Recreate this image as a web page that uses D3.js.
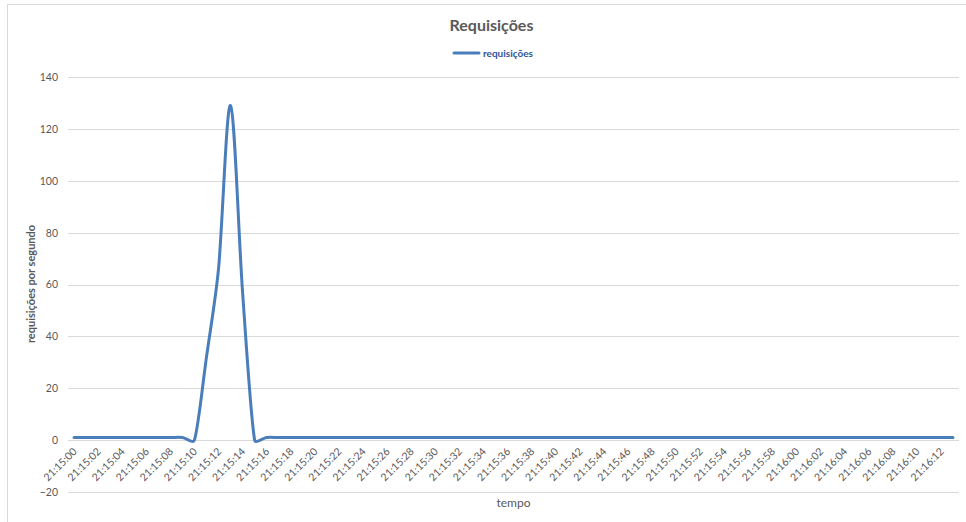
<!DOCTYPE html>
<html>
<head>
<meta charset="utf-8">
<script src="https://cdn.jsdelivr.net/npm/d3@7"></script>
<style>
  html, body { margin: 0; padding: 0; background: #fff; }
  svg { display: block; font-family: Lato, "Open Sans", sans-serif; }
</style>
</head>
<body>
<svg id="chart" width="966" height="522"></svg>
<script>
// Per-second timestamps of the run
const times = [
  "21:15:00","21:15:01","21:15:02","21:15:03","21:15:04","21:15:05","21:15:06","21:15:07",
  "21:15:08","21:15:09","21:15:10","21:15:11","21:15:12","21:15:13","21:15:14","21:15:15",
  "21:15:16","21:15:17","21:15:18","21:15:19","21:15:20","21:15:21","21:15:22","21:15:23",
  "21:15:24","21:15:25","21:15:26","21:15:27","21:15:28","21:15:29","21:15:30","21:15:31",
  "21:15:32","21:15:33","21:15:34","21:15:35","21:15:36","21:15:37","21:15:38","21:15:39",
  "21:15:40","21:15:41","21:15:42","21:15:43","21:15:44","21:15:45","21:15:46","21:15:47",
  "21:15:48","21:15:49","21:15:50","21:15:51","21:15:52","21:15:53","21:15:54","21:15:55",
  "21:15:56","21:15:57","21:15:58","21:15:59","21:16:00","21:16:01","21:16:02","21:16:03",
  "21:16:04","21:16:05","21:16:06","21:16:07","21:16:08","21:16:09","21:16:10","21:16:11",
  "21:16:12","21:16:13"
];

// Requests per second for each timestamp
const requisicoes = [
  1, 1, 1, 1, 1, 1, 1, 1,
  1, 1, 0, 32, 66, 129, 57, 0,
  1, 1, 1, 1, 1, 1, 1, 1,
  1, 1, 1, 1, 1, 1, 1, 1,
  1, 1, 1, 1, 1, 1, 1, 1,
  1, 1, 1, 1, 1, 1, 1, 1,
  1, 1, 1, 1, 1, 1, 1, 1,
  1, 1, 1, 1, 1, 1, 1, 1,
  1, 1, 1, 1, 1, 1, 1, 1,
  1, 1
];

const yTicks = [-20, 0, 20, 40, 60, 80, 100, 120, 140];

const chartTitle = "Requisições";
const seriesName = "requisições";
const yTitle = "requisições por segundo";
const xTitle = "tempo";

const svg = d3.select("#chart");
const textColor = "#595959";
const gridColor = "#d9d9d9";
const lineColor = "#4a7ebb";

const plot = { left: 68, right: 959, top: 77, bottom: 492 };

// Chart area frame
svg.append("rect")
  .attr("x", 7.5).attr("y", 4.5)
  .attr("width", 1000).attr("height", 600)
  .attr("fill", "#fff").attr("stroke", gridColor);

const x = d3.scalePoint()
  .domain(times)
  .range([plot.left, plot.right])
  .padding(0.5);

const y = d3.scaleLinear()
  .domain([-20, 140])
  .range([plot.bottom, plot.top]);

// Horizontal gridlines
svg.append("g")
  .selectAll("line")
  .data(yTicks)
  .join("line")
  .attr("x1", plot.left).attr("x2", plot.right)
  .attr("y1", d => Math.round(y(d)) + 0.5)
  .attr("y2", d => Math.round(y(d)) + 0.5)
  .attr("stroke", gridColor)
  .attr("stroke-width", 1);

// Value axis labels
const yAxis = d3.axisLeft(y).tickValues(yTicks).tickSize(0).tickPadding(0);
svg.append("g")
  .attr("transform", `translate(${plot.left - 10},0)`)
  .call(yAxis)
  .call(g => g.select(".domain").remove())
  .call(g => g.selectAll("text")
    .attr("fill", textColor)
    .style("font-size", "10.5px")
    .style("font-family", "Lato, sans-serif"));

// Category axis labels (every other second), rotated
const xAxis = d3.axisBottom(x)
  .tickValues(times.filter((d, i) => i % 2 === 0))
  .tickSize(0);
svg.append("g")
  .attr("transform", `translate(0,${y(0)})`)
  .call(xAxis)
  .call(g => g.select(".domain").remove())
  .call(g => g.selectAll("text")
    .attr("fill", textColor)
    .style("font-size", "10.5px")
    .style("font-family", "Lato, sans-serif")
    .attr("text-anchor", "end")
    .attr("y", 0)
    .attr("dy", 0)
    .attr("transform", "translate(3,12) rotate(-45)"));

// Smoothed curve: Bezier segments whose tangents follow the neighbouring points,
// with handle length capped by the segment length to keep overshoot small.
function SmoothCurve(context) { this._context = context; }
SmoothCurve.prototype = {
  areaStart() { this._line = 0; },
  areaEnd() { this._line = NaN; },
  lineStart() { this._pts = []; },
  point(px, py) { this._pts.push([+px, +py]); },
  lineEnd() {
    const p = this._pts, c = this._context, n = p.length;
    if (!n) return;
    c.moveTo(p[0][0], p[0][1]);
    for (let i = 0; i < n - 1; i++) {
      const a = p[i], b = p[i + 1];
      const pa = p[i - 1] || a, nb = p[i + 2] || b;
      const len = Math.hypot(b[0] - a[0], b[1] - a[1]);
      const d1 = [b[0] - pa[0], b[1] - pa[1]];
      const d2 = [nb[0] - a[0], nb[1] - a[1]];
      const l1 = Math.hypot(d1[0], d1[1]) || 1;
      const l2 = Math.hypot(d2[0], d2[1]) || 1;
      const h1 = Math.min(l1 / 6, len / 3);
      const h2 = Math.min(l2 / 6, len / 3);
      c.bezierCurveTo(
        a[0] + d1[0] / l1 * h1, a[1] + d1[1] / l1 * h1,
        b[0] - d2[0] / l2 * h2, b[1] - d2[1] / l2 * h2,
        b[0], b[1]);
    }
  }
};
const curveSmooth = ctx => new SmoothCurve(ctx);

const line = d3.line()
  .x((d, i) => x(times[i]))
  .y(d => y(d))
  .curve(curveSmooth);

svg.append("path")
  .datum(requisicoes)
  .attr("d", line)
  .attr("fill", "none")
  .attr("stroke", lineColor)
  .attr("stroke-width", 3)
  .attr("stroke-linecap", "round")
  .attr("stroke-linejoin", "round");

// Title
svg.append("text")
  .attr("x", 491.5).attr("y", 30.5)
  .attr("text-anchor", "middle")
  .attr("fill", textColor)
  .style("font-size", "16px")
  .style("font-weight", "bold")
  .text(chartTitle);

// Legend
const legend = svg.append("g").attr("transform", "translate(454,53)");
legend.append("line")
  .attr("x1", 0).attr("x2", 25).attr("y1", 0).attr("y2", 0)
  .attr("stroke", lineColor).attr("stroke-width", 3)
  .attr("stroke-linecap", "round");
legend.append("text")
  .attr("x", 29).attr("y", 3.5)
  .attr("fill", "#2f5597")
  .style("font-size", "10px")
  .style("font-weight", "bold")
  .text(seriesName);

// Axis titles
svg.append("text")
  .attr("transform", "translate(35,284) rotate(-90)")
  .attr("text-anchor", "middle")
  .attr("fill", textColor)
  .style("font-size", "11px")
  .style("font-weight", "bold")
  .text(yTitle);

svg.append("text")
  .attr("x", 513.5).attr("y", 507)
  .attr("text-anchor", "middle")
  .attr("fill", textColor)
  .style("font-size", "12px")
  .text(xTitle);
</script>
</body>
</html>
